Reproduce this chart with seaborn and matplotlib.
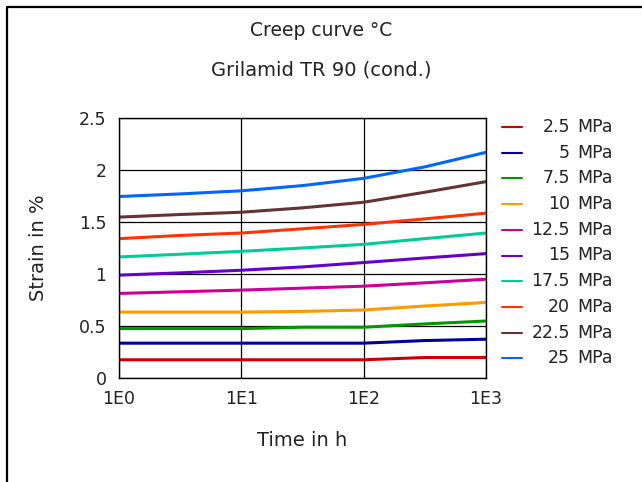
import numpy as np
import pandas as pd
import seaborn as sns
import matplotlib.pyplot as plt
from matplotlib.lines import Line2D

# creep curves, time in h (log axis)
time_h = [1, 3.16, 10, 31.6, 100, 316, 1000]
stress_labels = ['2.5', '5', '7.5', '10', '12.5', '15', '17.5', '20', '22.5', '25']
strain_2_5 = [0.175, 0.175, 0.175, 0.175, 0.175, 0.197, 0.197]
strain_5 = [0.335, 0.335, 0.335, 0.335, 0.335, 0.360, 0.373]
strain_7_5 = [0.475, 0.475, 0.475, 0.488, 0.488, 0.520, 0.548]
strain_10 = [0.634, 0.634, 0.634, 0.640, 0.654, 0.692, 0.727]
strain_12_5 = [0.813, 0.829, 0.845, 0.864, 0.883, 0.915, 0.950]
strain_15 = [0.989, 1.011, 1.036, 1.068, 1.110, 1.154, 1.196]
strain_17_5 = [1.164, 1.190, 1.218, 1.250, 1.285, 1.340, 1.394]
strain_20 = [1.340, 1.371, 1.394, 1.435, 1.477, 1.530, 1.585]
strain_22_5 = [1.547, 1.572, 1.594, 1.636, 1.690, 1.786, 1.888]
strain_25 = [1.745, 1.770, 1.800, 1.850, 1.920, 2.030, 2.170]
colors = ['#CC0000', '#000099', '#009900', '#FF9900', '#CC0099',
          '#6600CC', '#00CC99', '#FF3300', '#663333', '#0066FF']

curves = [strain_2_5, strain_5, strain_7_5, strain_10, strain_12_5,
          strain_15, strain_17_5, strain_20, strain_22_5, strain_25]
rows = []
for lab, vals in zip(stress_labels, curves):
    for t, v in zip(time_h, vals):
        rows.append({'time': t, 'strain': v, 'stress': lab})
df = pd.DataFrame(rows)

sns.set_style("white")
plt.rcParams['font.family'] = ['DejaVu Sans']

W, H = 642, 482
fig = plt.figure(figsize=(W / 100, H / 100), dpi=100)
ax = fig.add_axes([119 / W, 1 - 378 / H, (486 - 119) / W, (378 - 118) / H])

sns.lineplot(data=df, x='time', y='strain', hue='stress', hue_order=stress_labels,
             palette=colors, legend=False, lw=2.2, ax=ax)

ax.set_xscale('log')
ax.set_xlim(1, 1000)
ax.set_ylim(0, 2.5)
ax.set_xticks([1, 10, 100, 1000])
ax.set_xticklabels(['1E0', '1E1', '1E2', '1E3'])
ax.set_yticks([0, 0.5, 1, 1.5, 2, 2.5])
ax.set_yticklabels(['0', '0.5', '1', '1.5', '2', '2.5'])
ax.minorticks_off()
ax.tick_params(length=0, labelsize=12.5, colors='#222222', pad=9)
ax.grid(True, color='black', lw=0.9)
for s in ax.spines.values():
    s.set_color('black')
    s.set_linewidth(1.0)
ax.set_xlabel('Time in h', fontsize=14, color='#222222', labelpad=16)
ax.set_ylabel('Strain in %', fontsize=14, color='#222222', labelpad=22)

fig.text(0.5, 1 - 30 / H, 'Creep curve °C', ha='center', va='center', fontsize=13.5, color='#222222')
fig.text(0.5, 1 - 70 / H, 'Grilamid TR 90 (cond.)', ha='center', va='center', fontsize=14, color='#222222')

# legend drawn by hand: number right aligned, unit in its own column
for i, (lab, c) in enumerate(zip(stress_labels, colors)):
    y = 1 - (127 + i * 25.7) / H
    fig.add_artist(Line2D([502 / W, 522 / W], [y, y], color=c, lw=1.5))
    fig.text(570 / W, y, lab, ha='right', va='center', fontsize=12.5, color='#222222')
    fig.text(577 / W, y, 'MPa', ha='left', va='center', fontsize=12.5, color='#222222')

# frame on top and left edges
fig.add_artist(Line2D([7 / W, 7 / W, 1], [0, 1 - 7 / H, 1 - 7 / H], color='black', lw=1.6))

fig.savefig('out.png', dpi=100)
